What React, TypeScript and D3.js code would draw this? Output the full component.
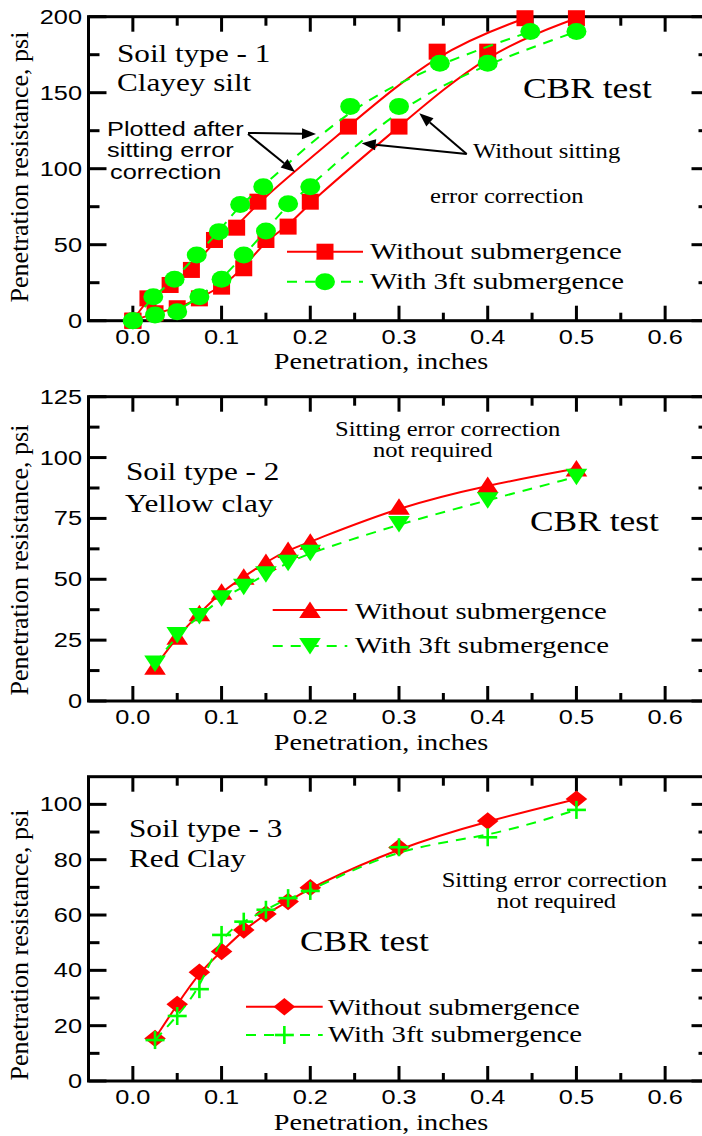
import React from "react";
import * as d3 from "d3";

// ---------- data ----------
const penetration = [0.025, 0.05, 0.075, 0.1, 0.125, 0.15, 0.175, 0.2, 0.3, 0.4, 0.5];

// Soil 1 (clayey silt)
const s1RedRawX = [0, 0.025, 0.05, 0.075, 0.1, 0.125, 0.15, 0.175, 0.2, 0.3, 0.4, 0.5];
const s1RedRawY = [0, 4.9, 8.2, 14.7, 22.4, 34.5, 53.1, 61.9, 78.3, 127.7, 177, 199];
const s1RedCorX = [0, 0.017, 0.042, 0.066, 0.092, 0.117, 0.141, 0.243, 0.343, 0.442];
const s1RedCorY = [0, 14.7, 23.5, 33.4, 53.1, 61.2, 78.3, 127.7, 177, 199];
const s1GreenRawX = [0, 0.025, 0.05, 0.075, 0.1, 0.125, 0.15, 0.175, 0.2, 0.3, 0.4, 0.5];
const s1GreenRawY = [0, 3.8, 5.9, 15.8, 27.2, 43.2, 59, 77, 88.2, 141, 169.4, 190.2];
const s1GreenCorX = [0, 0.023, 0.047, 0.072, 0.097, 0.121, 0.147, 0.245, 0.346, 0.448];
const s1GreenCorY = [0, 15.8, 27.2, 43.2, 58.6, 76.5, 88.2, 141, 169.4, 190.2];

// Soil 2 (yellow clay)
const s2Red = [14.1, 26.4, 36, 44.9, 51, 57.1, 62, 65.4, 79.8, 88.7, 95.5];
const s2Green = [15.4, 27.1, 34.9, 42.2, 46.9, 52.1, 56.8, 60.9, 72.7, 82.5, 92.1];

// Soil 3 (red clay)
const s3Red = [15.4, 27.7, 39.3, 46.8, 54.6, 60.4, 64.9, 69.9, 84.4, 94, 101.9];
const s3Green = [14.8, 23.5, 33.2, 52.8, 57.6, 61.9, 66.1, 68.7, 84.5, 88.1, 98];

const xMajor = [0, 0.1, 0.2, 0.3, 0.4, 0.5, 0.6];
const xMinor = [0.05, 0.15, 0.25, 0.35, 0.45, 0.55];
const y1Major = [0, 50, 100, 150, 200];
const y1Minor = [25, 75, 125, 175];
const y2Major = [0, 25, 50, 75, 100, 125];
const y2Minor = [12.5, 37.5, 62.5, 87.5, 112.5];
const y3Major = [0, 20, 40, 60, 80, 100];
const y3Minor = [10, 30, 50, 70, 90];

const legendLabels = ["Without submergence", "With 3ft submergence"];

// ---------- styles ----------
const RED = "#ff0000";
const GREEN = "#00ff00";
const SERIF = "'Liberation Serif', 'Times New Roman', serif";
const SANS = "'Liberation Sans', Arial, sans-serif";
const SX_SERIF = 1.2;
const SX_SANS = 1.3;
const DASH = "10,8";

const x = d3.scaleLinear().domain([-0.05, 0.65]).range([88.5, 709.5]);

type Pt = [number, number];

function T({ x, y, s, size, family = SERIF, sx = SX_SERIF, anchor = "start" }: any) {
  return (
    <text
      transform={`translate(${x},${y}) scale(${sx},1)`}
      fontFamily={family}
      fontSize={size}
      textAnchor={anchor}
      fill="#000"
    >
      {s}
    </text>
  );
}

function Marker({ kind, cx, cy }: { kind: string; cx: number; cy: number }) {
  switch (kind) {
    case "square":
      return <rect x={cx - 8.5} y={cy - 8} width={17} height={16} fill={RED} />;
    case "circle":
      return <ellipse cx={cx} cy={cy} rx={10} ry={8.5} fill={GREEN} />;
    case "up":
      return (
        <polygon
          points={`${cx},${cy - 8.5} ${cx + 10.8},${cy + 8} ${cx - 10.8},${cy + 8}`}
          fill={RED}
        />
      );
    case "down":
      return (
        <polygon
          points={`${cx},${cy + 8.5} ${cx + 10.8},${cy - 8} ${cx - 10.8},${cy - 8}`}
          fill={GREEN}
        />
      );
    case "diamond":
      return (
        <polygon
          points={`${cx},${cy - 8.7} ${cx + 10.8},${cy} ${cx},${cy + 8.7} ${cx - 10.8},${cy}`}
          fill={RED}
        />
      );
    case "plus":
      return (
        <g stroke={GREEN} strokeWidth={2.6}>
          <line x1={cx - 9.5} x2={cx + 9.5} y1={cy} y2={cy} />
          <line x1={cx} x2={cx} y1={cy - 9} y2={cy + 9} />
        </g>
      );
  }
  return null;
}

function Series({ pts, y, color, dashed, marker }: any) {
  const line = d3
    .line<Pt>()
    .x((d) => x(d[0]))
    .y((d) => y(d[1]))
    .curve(d3.curveBasis);
  return (
    <g>
      <path
        d={line(pts) || ""}
        fill="none"
        stroke={color}
        strokeWidth={2}
        strokeDasharray={dashed ? DASH : undefined}
      />
      {pts.map((d: Pt, i: number) => (
        <Marker key={i} kind={marker} cx={x(d[0])} cy={y(d[1])} />
      ))}
    </g>
  );
}

function Legend({ x0, x1, yA, yB, mA, mB, tx, tyA, tyB }: any) {
  const mid = (x0 + x1) / 2;
  return (
    <g>
      <line x1={x0} x2={x1} y1={yA} y2={yA} stroke={RED} strokeWidth={2} />
      <Marker kind={mA} cx={mid} cy={yA} />
      <line x1={x0} x2={x1} y1={yB} y2={yB} stroke={GREEN} strokeWidth={2} strokeDasharray={DASH} />
      <Marker kind={mB} cx={mid} cy={yB} />
      <T x={tx} y={tyA} s={legendLabels[0]} size={24} />
      <T x={tx} y={tyB} s={legendLabels[1]} size={24} />
    </g>
  );
}

function Arrow({ x1, y1, x2, y2 }: any) {
  const a = Math.atan2(y2 - y1, x2 - x1);
  const L = 14,
    w = 5.5;
  const bx = x2 - L * Math.cos(a),
    by = y2 - L * Math.sin(a);
  const px = -Math.sin(a) * w,
    py = Math.cos(a) * w;
  return (
    <g>
      <line x1={x1} y1={y1} x2={bx} y2={by} stroke="#000" strokeWidth={2} />
      <polygon points={`${x2},${y2} ${bx + px},${by + py} ${bx - px},${by - py}`} fill="#000" />
    </g>
  );
}

function Frame({ top, bottom, y, yMajor, yMinor, yLabelCenter }: any) {
  const left = x.range()[0];
  const right = x.range()[1];
  const fmtY = (v: number) => String(v);
  return (
    <g>
      {/* ticks */}
      <g stroke="#000" strokeWidth={3}>
        {xMajor.map((v) => (
          <g key={"xM" + v}>
            <line x1={x(v)} x2={x(v)} y1={bottom} y2={bottom - 15} />
            <line x1={x(v)} x2={x(v)} y1={top} y2={top + 15} />
          </g>
        ))}
        {xMinor.map((v) => (
          <g key={"xm" + v}>
            <line x1={x(v)} x2={x(v)} y1={bottom} y2={bottom - 8} />
            <line x1={x(v)} x2={x(v)} y1={top} y2={top + 9} />
          </g>
        ))}
        {yMajor.map((v: number) => (
          <g key={"yM" + v}>
            <line x1={left} x2={left + 18} y1={y(v)} y2={y(v)} />
            <line x1={right} x2={right - 18} y1={y(v)} y2={y(v)} />
          </g>
        ))}
        {yMinor.map((v: number) => (
          <g key={"ym" + v}>
            <line x1={left} x2={left + 11} y1={y(v)} y2={y(v)} />
            <line x1={right} x2={right - 11} y1={y(v)} y2={y(v)} />
          </g>
        ))}
      </g>
      <rect
        x={left}
        y={top}
        width={right - left}
        height={bottom - top}
        fill="none"
        stroke="#000"
        strokeWidth={3}
      />
      {/* tick labels */}
      {xMajor.map((v) => (
        <T
          key={"xl" + v}
          x={x(v)}
          y={bottom + 23}
          s={d3.format(".1f")(v)}
          size={19.5}
          family={SANS}
          sx={SX_SANS}
          anchor="middle"
        />
      ))}
      {yMajor.map((v: number) => (
        <T
          key={"yl" + v}
          x={82}
          y={y(v) + 7}
          s={fmtY(v)}
          size={19.5}
          family={SANS}
          sx={SX_SANS}
          anchor="end"
        />
      ))}
      <T x={381} y={bottom + 48.5} s="Penetration, inches" size={23.5} anchor="middle" />
      <text
        transform={`translate(28,${yLabelCenter}) rotate(-90)`}
        fontFamily={SERIF}
        fontSize={26}
        textAnchor="middle"
      >
        Penetration resistance, psi
      </text>
    </g>
  );
}

export default function App() {
  const y1 = d3.scaleLinear().domain([0, 200]).range([320.7, 16.7]);
  const y2 = d3.scaleLinear().domain([0, 125]).range([701, 396.7]);
  const y3 = d3.scaleLinear().domain([0, 110]).range([1081, 776.7]);

  const zip = (a: number[], b: number[]): Pt[] => a.map((v, i) => [v, b[i]]);

  return (
    <svg
      width={702}
      height={1136}
      style={{ position: "absolute", left: 0, top: 0, background: "#fff" }}
    >
      <rect width={702} height={1136} fill="#fff" />

      {/* ---------- Panel 1 ---------- */}
      <Frame top={16.7} bottom={320.7} y={y1} yMajor={y1Major} yMinor={y1Minor} yLabelCenter={167} />
      <Series pts={zip(s1RedCorX, s1RedCorY)} y={y1} color={RED} marker="square" />
      <Series pts={zip(s1RedRawX, s1RedRawY)} y={y1} color={RED} marker="square" />
      <Series pts={zip(s1GreenCorX, s1GreenCorY)} y={y1} color={GREEN} dashed marker="circle" />
      <Series pts={zip(s1GreenRawX, s1GreenRawY)} y={y1} color={GREEN} dashed marker="circle" />
      <T x={117} y={62} s="Soil type - 1" size={26} />
      <T x={117} y={91} s="Clayey silt" size={26} />
      <T x={523} y={97.7} s="CBR test" size={29.5} />
      <T x={107} y={136} s="Plotted after" size={19.5} family={SANS} sx={SX_SANS} />
      <T x={107} y={157} s="sitting error" size={19.5} family={SANS} sx={SX_SANS} />
      <T x={110} y={179} s="correction" size={19.5} family={SANS} sx={SX_SANS} />
      <Arrow x1={248} y1={133} x2={316} y2={134} />
      <Arrow x1={248} y1={134} x2={295} y2={172} />
      <T x={473} y={158} s="Without sitting" size={20.5} />
      <T x={430} y={203} s="error correction" size={20.5} />
      <Arrow x1={466.7} y1={154} x2={419.3} y2={113.3} />
      <Arrow x1={466.7} y1={154} x2={361.7} y2={143.3} />
      <Legend x0={287} x1={363} yA={251.7} yB={281.7} mA="square" mB="circle" tx={370} tyA={259.3} tyB={289} />

      {/* ---------- Panel 2 ---------- */}
      <Frame top={396.7} bottom={701} y={y2} yMajor={y2Major} yMinor={y2Minor} yLabelCenter={560} />
      <Series pts={zip(penetration, s2Red)} y={y2} color={RED} marker="up" />
      <Series pts={zip(penetration, s2Green)} y={y2} color={GREEN} dashed marker="down" />
      <T x={126} y={480} s="Soil type - 2" size={26} />
      <T x={125} y={511.7} s="Yellow clay" size={26} />
      <T x={530} y={531} s="CBR test" size={29.5} />
      <T x={335} y={435.5} s="Sitting error correction" size={20.5} />
      <T x={373} y={457} s="not required" size={20.5} />
      <Legend x0={272.7} x1={347.3} yA={610} yB={646} mA="up" mB="down" tx={355} tyA={619.3} tyB={653} />

      {/* ---------- Panel 3 ---------- */}
      <Frame top={776.7} bottom={1081} y={y3} yMajor={y3Major} yMinor={y3Minor} yLabelCenter={945} />
      <Series pts={zip(penetration, s3Red)} y={y3} color={RED} marker="diamond" />
      <Series pts={zip(penetration, s3Green)} y={y3} color={GREEN} dashed marker="plus" />
      <T x={129} y={837.3} s="Soil type - 3" size={26} />
      <T x={129} y={867.3} s="Red Clay" size={26} />
      <T x={300} y={950.7} s="CBR test" size={29.5} />
      <T x={441.7} y={886.7} s="Sitting error correction" size={20.5} />
      <T x={496.7} y={908.3} s="not required" size={20.5} />
      <Legend x0={246} x1={322.7} yA={1006.7} yB={1035} mA="diamond" mB="plus" tx={328} tyA={1015} tyB={1041.7} />
    </svg>
  );
}
